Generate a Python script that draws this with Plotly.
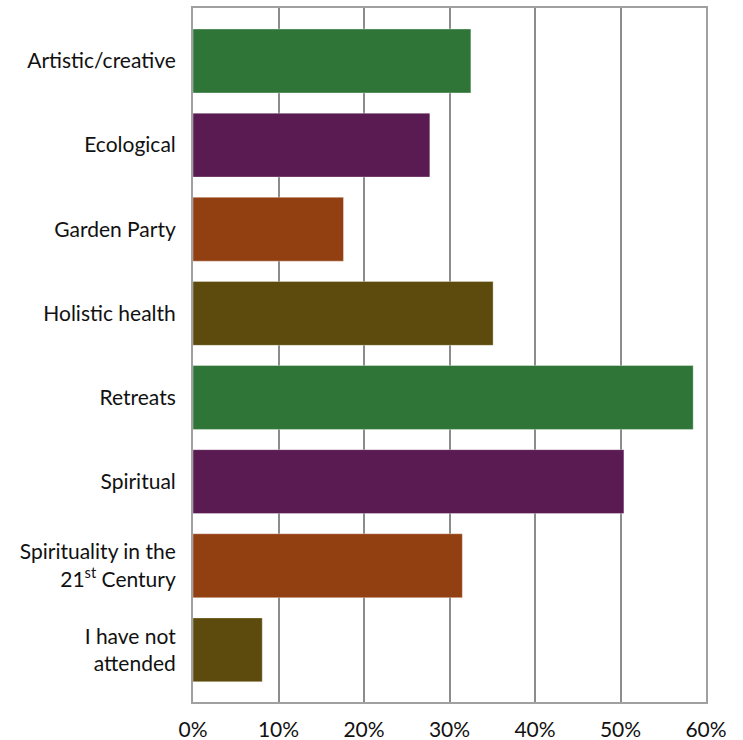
import plotly.graph_objects as go

categories = ["Artistic/creative", "Ecological", "Garden Party", "Holistic health",
              "Retreats", "Spiritual", "Spirituality in the<br>21<sup>st</sup> Century",
              "I have not<br>attended"]
values = [32.5, 27.7, 17.6, 35.1, 58.5, 50.4, 31.5, 8.1]
colors = ["#2E7537", "#5A1B52", "#923F12", "#5C4B0D",
          "#2E7537", "#5A1B52", "#923F12", "#5C4B0D"]
tick_vals = [0, 10, 20, 30, 40, 50, 60]
tick_text = ["0%", "10%", "20%", "30%", "40%", "50%", "60%"]

fig = go.Figure(go.Bar(
    x=values, y=categories, orientation="h",
    marker=dict(color=colors, line=dict(color="rgba(255,255,255,0.35)", width=1)),
    width=0.76,
))

fig.update_layout(
    width=743, height=740,
    margin=dict(l=193, r=37, t=8, b=38),
    paper_bgcolor="white", plot_bgcolor="white",
    font=dict(family="Lato, 'Open Sans', sans-serif", size=21, color="#111111"),
    showlegend=False,
    xaxis=dict(range=[0, 60], tickvals=tick_vals, ticktext=tick_text,
               showgrid=True, gridcolor="#8C8C8C", gridwidth=2,
               showline=True, linecolor="#A0A0A0", linewidth=2, mirror=True,
               zeroline=False, ticks="", ticklabelstandoff=8, automargin=False),
    yaxis=dict(type="category", range=[7.62, -0.63], showgrid=False,
               showline=True, linecolor="#A0A0A0", linewidth=2, mirror=True,
               ticks="", ticklabelstandoff=11, automargin=False),
)

fig.write_html("out.html")
